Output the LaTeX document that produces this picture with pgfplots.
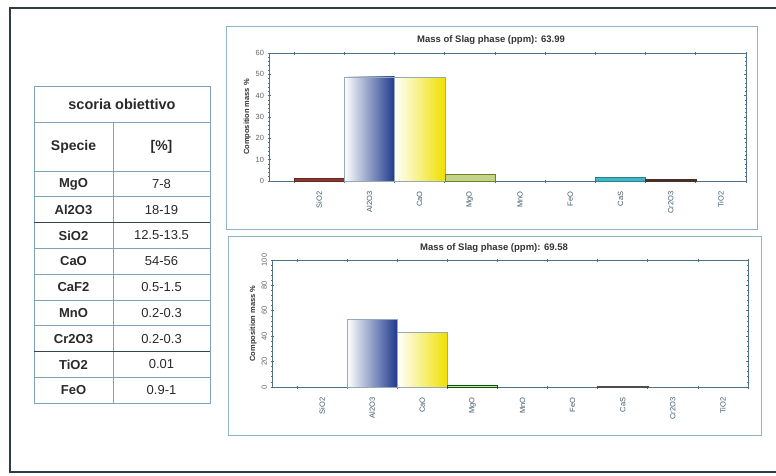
\documentclass[border=0pt]{standalone}
\usepackage{fontspec}
\setmainfont{Liberation Sans}
\usepackage{pgfplots}
\pgfplotsset{compat=1.18}
\definecolor{frame}{HTML}{2E3B44}
\definecolor{panel}{HTML}{8FB3C7}
\definecolor{axisc}{HTML}{4F7185}
\definecolor{tab}{HTML}{7FA3B8}
\definecolor{tabdark}{HTML}{34434D}
\definecolor{navy}{HTML}{1F3A8C}
\definecolor{lav}{HTML}{8A8CC8}
\definecolor{yel}{HTML}{F0E000}
\definecolor{sio}{HTML}{8B3A2E}
\definecolor{mgo}{HTML}{9BB53A}
\definecolor{cas}{HTML}{3FB5C8}
\definecolor{cro}{HTML}{4A2E2A}
\definecolor{txt}{HTML}{2A2A2A}
\pgfplotsset{slag/.style={
  scale only axis, xmin=-1, xmax=8.5, ymin=0,
  /pgf/number format/assume math mode=true,
  axis line style={axisc, line width=0.9pt},
  tick style={axisc, line width=0.7pt},
  tick align=center, major tick length=3pt, minor tick length=2pt,
  xtick={-0.5,0.5,...,8.5}, xticklabels={},
  extra x ticks={0,1,2,3,4,5,6,7,8},
  extra x tick labels={SiO2,Al2O3,CaO,MgO,MnO,FeO,CaS,Cr2O3,TiO2},
  extra x tick style={major tick length=0pt},
  x tick label style={rotate=90, anchor=east, font=\fontsize{7.5}{8}\selectfont, text=axisc!80!black},
  xticklabel shift=7pt,
  y tick label style={font=\fontsize{7.5}{8}\selectfont, text=black!60},
  minor y tick num=4,
  ylabel={\textbf{Composition mass \%}},
  ylabel style={font=\fontsize{7.5}{8}\selectfont, text=black!80, yshift=-2pt},
}}
\begin{document}
\begin{tikzpicture}[x=1pt,y=1pt]
\path[use as bounding box] (0,0) rectangle (776,475);
\fill[white] (0,0) rectangle (776,475);
\draw[frame, line width=2pt] (790,467) -- (10,467) -- (10,3) -- (790,3);

% ---------- table ----------
\def\rh{25.8}
\draw[tab, line width=1pt] (34,72) rectangle (210,388);
\draw[tab, line width=1pt] (34,353) -- (210,353);
\draw[tab, line width=1pt] (34,304) -- (210,304);
\draw[tab, line width=1pt] (113,353) -- (113,72);
\foreach \i in {1,3,4,5,6,8} {\draw[tab, line width=0.8pt] (34,{304-\i*\rh}) -- (210,{304-\i*\rh});}
\draw[tabdark, line width=1.2pt] (34,{304-2*\rh}) -- (210,{304-2*\rh});
\draw[tabdark, line width=1.2pt] (34,{304-7*\rh}) -- (210,{304-7*\rh});
\node[txt, font=\fontsize{14.5}{16}\selectfont\bfseries] at (122,370.5) {scoria obiettivo};
\node[txt, font=\fontsize{14}{15}\selectfont\bfseries] at (73.5,328.5) {Specie};
\node[txt, font=\fontsize{14}{15}\selectfont\bfseries] at (161.5,328.5) {[\%]};
\foreach \s/\v [count=\k from 0] in {MgO/7-8, Al2O3/18-19, SiO2/12.5-13.5, CaO/54-56, CaF2/0.5-1.5, MnO/0.2-0.3, Cr2O3/0.2-0.3, TiO2/0.01, FeO/0.9-1} {
  \node[txt, font=\fontsize{13}{14}\selectfont\bfseries] at (73.5,{304-\k*\rh-0.5*\rh}) {\s};
  \node[txt, font=\fontsize{13}{14}\selectfont] at (161.5,{304-\k*\rh-0.5*\rh}) {\v};
}

% ---------- chart 1 ----------
\draw[panel, line width=1pt] (226,246) rectangle (757,448);
\node[font=\fontsize{9.5}{10}\selectfont\bfseries, text=black!80] at (491,435) {Mass of Slag phase (ppm): 63.99};
\begin{axis}[slag, at={(269pt,294pt)}, anchor=south west, width=477pt, height=128pt,
  ymax=60, ytick={0,10,...,60}]
\addplot[ybar, bar width=1, bar shift=0pt, fill=sio, draw=sio!70!black] coordinates {(0,1.1)};
\addplot[ybar, bar width=1, bar shift=0pt, left color=white, middle color=lav, right color=navy, draw=axisc!60] coordinates {(1,48.8)};
\addplot[ybar, bar width=1, bar shift=0pt, left color=white, right color=yel, draw=axisc!60] coordinates {(2,48.6)};
\addplot[ybar, bar width=1, bar shift=0pt, fill=mgo!60, draw=mgo!70!black] coordinates {(3,3.1)};
\addplot[ybar, bar width=1, bar shift=0pt, fill=cas, draw=cas!70!black] coordinates {(6,1.9)};
\addplot[ybar, bar width=1, bar shift=0pt, fill=cro, draw=cro] coordinates {(7,0.9)};
\end{axis}

% ---------- chart 2 ----------
\draw[panel, line width=1pt] (228,40) rectangle (761,239);
\node[font=\fontsize{9.5}{10}\selectfont\bfseries, text=black!80] at (494,227) {Mass of Slag phase (ppm): 69.58};
\begin{axis}[slag, at={(272pt,88pt)}, anchor=south west, width=476pt, height=127pt,
  ymax=100, ytick={0,20,...,100},
  y tick label style={rotate=90, anchor=south}]
\addplot[ybar, bar width=1, bar shift=0pt, left color=white, middle color=lav, right color=navy, draw=axisc!60] coordinates {(1,53.0)};
\addplot[ybar, bar width=1, bar shift=0pt, left color=white, right color=yel, draw=axisc!60] coordinates {(2,43.3)};
\addplot[ybar, bar width=1, bar shift=0pt, fill=mgo!40, draw=green!35!black] coordinates {(3,1.5)};
\addplot[ybar, bar width=1, bar shift=0pt, fill=white, draw=black!70] coordinates {(6,0.9)};
\end{axis}
\end{tikzpicture}
\end{document}
